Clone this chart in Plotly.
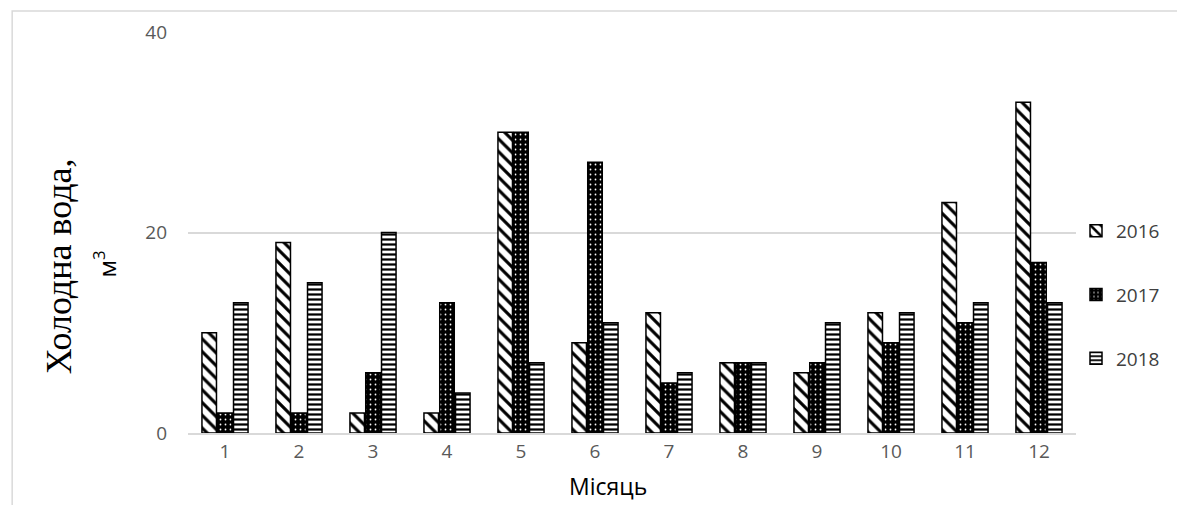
import plotly.graph_objects as go

months = [str(i) for i in range(1, 13)]
y2016 = [10, 19, 2, 2, 30, 9, 12, 7, 6, 12, 23, 33]
y2017 = [2, 2, 6, 13, 30, 27, 5, 7, 7, 9, 11, 17]
y2018 = [13, 15, 20, 4, 7, 11, 6, 7, 11, 12, 13, 13]

# the page body has an 8px margin; figure sized to fit the 1185x513 window
OFF = 8
W, H = 1185 - 2 * OFF, 513 - 2 * OFF
L, T = 188 - OFF, 32 - OFF
R, B = W - (1092 - OFF), H - (433 - OFF)
pw, ph = W - L - R, H - T - B

def px_x(x):  # page pixel -> paper
    return (x - OFF - L) / pw

def px_y(y):
    return (H - B - (y - OFF)) / ph

fig = go.Figure()
fig.add_trace(go.Bar(
    name="2016", x=months, y=y2016, legendgroup="a",
    marker=dict(color="white", line=dict(color="black", width=1.5),
                pattern=dict(shape="\\", fgcolor="black", bgcolor="white",
                             size=9, solidity=0.35, fillmode="replace")),
))
fig.add_trace(go.Bar(
    name="2017", x=months, y=y2017, legendgroup="b",
    marker=dict(color="black", line=dict(color="black", width=1.5),
                pattern=dict(shape=".", fgcolor="white", bgcolor="black",
                             size=5, solidity=0.1, fillmode="replace")),
))
fig.add_trace(go.Bar(
    name="2018", x=months, y=y2018, legendgroup="c",
    marker=dict(color="white", line=dict(color="black", width=1.5),
                pattern=dict(shape="-", fgcolor="black", bgcolor="white",
                             size=5, solidity=0.45, fillmode="replace")),
))

fig.update_layout(
    width=W, height=H,
    margin=dict(l=L, r=R, t=T, b=B),
    paper_bgcolor="white", plot_bgcolor="white",
    barmode="group", bargap=0.36, bargroupgap=0.08,
    showlegend=True,
    legend=dict(x=px_x(1092), y=px_y(295), xanchor="left", yanchor="middle",
                font=dict(family="Open Sans, Liberation Sans", size=19, color="#404040"),
                tracegroupgap=36, itemwidth=30, bgcolor="rgba(0,0,0,0)"),
    font=dict(family="Open Sans, Liberation Sans", color="#595959"),
    xaxis=dict(
        automargin=False,
        showgrid=False, showline=True, linecolor="#d9d9d9", linewidth=1.5,
        ticks="", tickfont=dict(size=19, color="#595959"),
    ),
    yaxis=dict(
        automargin=False,
        range=[0, 40], tickvals=[0, 20, 40], showgrid=True, gridcolor="#d9d9d9",
        gridwidth=1.5, zeroline=False, showline=False, ticks="",
        tickfont=dict(size=19, color="#595959"), ticklabelstandoff=20,
    ),
    annotations=[
        dict(text="Холодна вода,", textangle=-90, xref="paper", yref="paper",
             x=px_x(57), y=px_y(266), xanchor="center", yanchor="middle", showarrow=False,
             font=dict(family="Liberation Serif, DejaVu Serif, serif", size=36, color="#000000")),
        dict(text="м<sup>3</sup>", textangle=-90, xref="paper", yref="paper",
             x=px_x(104), y=px_y(264), xanchor="center", yanchor="middle", showarrow=False,
             font=dict(family="Open Sans, Liberation Sans", size=24, color="#000000")),
        dict(text="Місяць", xref="paper", yref="paper",
             x=px_x(616), y=px_y(486), xanchor="center", yanchor="middle", showarrow=False,
             borderpad=0,
             font=dict(family="Open Sans, Liberation Sans", size=23, color="#000000")),
    ],
    shapes=[dict(type="rect", xref="paper", yref="paper",
                 x0=px_x(OFF + 1), x1=1.3, y0=-0.4, y1=px_y(11),
                 line=dict(color="#d9d9d9", width=1.5), fillcolor="rgba(0,0,0,0)", layer="below")],
)

fig.write_html("out.html")
